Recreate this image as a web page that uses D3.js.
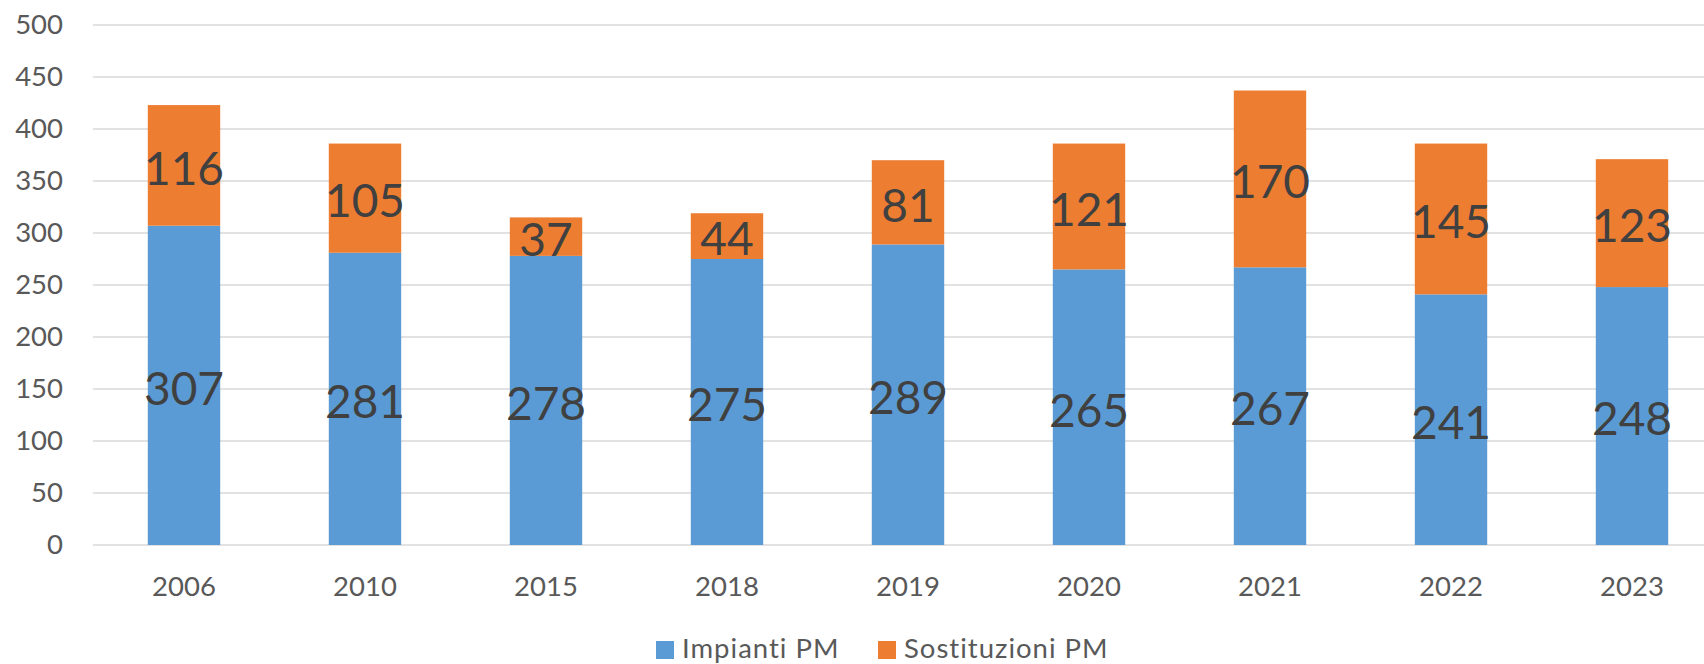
<!DOCTYPE html>
<html><head><meta charset="utf-8">
<script src="https://cdn.jsdelivr.net/npm/d3@7"></script>
<style>body{margin:0;background:#fff}svg{display:block}text{font-family:Lato,"Open Sans",sans-serif}</style>
</head><body><svg id="c" width="1704" height="664"></svg>
<script>
const years = ["2006","2010","2015","2018","2019","2020","2021","2022","2023"];
const impianti = [307,281,278,275,289,265,267,241,248];
const sostituzioni = [116,105,37,44,81,121,170,145,123];
const yTicks = [0,50,100,150,200,250,300,350,400,450,500];
const seriesNames = ["Impianti PM","Sostituzioni PM"];
const colors = ["#5B9BD5","#ED7D31"];

const svg = d3.select("#c");
const x = d3.scaleBand().domain(years).range([93.5,1722.5]).paddingInner(0.6).paddingOuter(0.3);
const y = d3.scaleLinear().domain([0,500]).range([545,25]);

svg.append("g").selectAll("line").data(yTicks).join("line")
  .attr("x1",93).attr("x2",1704)
  .attr("y1",d=>y(d)).attr("y2",d=>y(d))
  .attr("stroke","#d9d9d9").attr("stroke-width",1.5);

const yAxis = d3.axisLeft(y).tickValues(yTicks).tickSize(0).tickPadding(0);
const gy = svg.append("g").attr("transform","translate(63,0)").call(yAxis);
gy.select(".domain").remove();
gy.selectAll("text").attr("font-size",27.5).attr("fill","#595959").attr("font-family","Lato");

const xAxis = d3.axisBottom(x).tickSize(0).tickPadding(0);
const gx = svg.append("g").attr("transform","translate(0,576)").call(xAxis);
gx.select(".domain").remove();
gx.selectAll("text").attr("font-size",27.5).attr("fill","#595959").attr("dy","0.72em").attr("font-family","Lato");

const rows = years.map((yr,i)=>({year:yr, a:impianti[i], b:sostituzioni[i]}));
const stack = d3.stack().keys(["a","b"])(rows);

stack.forEach((layer,li)=>{
  svg.append("g").selectAll("rect").data(layer).join("rect")
    .attr("x",d=>x(d.data.year)).attr("width",x.bandwidth())
    .attr("y",d=>y(d[1])).attr("height",d=>y(d[0])-y(d[1]))
    .attr("fill",colors[li]);
});
stack.forEach((layer,li)=>{
  svg.append("g").selectAll("text").data(layer).join("text")
    .attr("x",d=>x(d.data.year)+x.bandwidth()/2)
    .attr("y",d=>y((d[0]+d[1])/2))
    .attr("dy","0.42em")
    .attr("text-anchor","middle")
    .attr("font-size",46).attr("fill","#404040")
    .text(d=>d[1]-d[0]);
});

const leg = svg.append("g");
const legX = [656,878];
seriesNames.forEach((n,i)=>{
  leg.append("rect").attr("x",legX[i]).attr("y",641).attr("width",18).attr("height",18).attr("fill",colors[i]);
  leg.append("text").attr("x",legX[i]+26).attr("y",658).attr("font-size",27.5)
    .attr("letter-spacing",1).attr("fill","#595959").text(n);
});
</script></body></html>
